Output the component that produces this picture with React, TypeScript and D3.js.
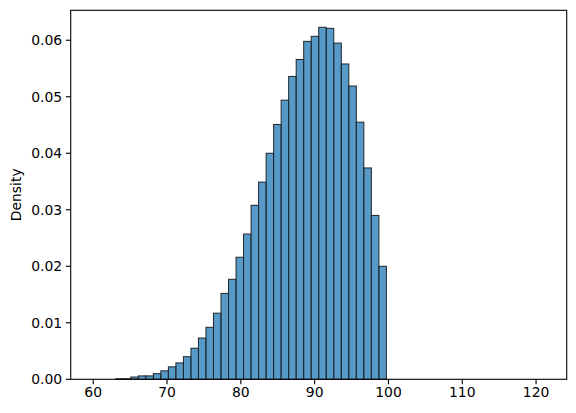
import * as d3 from "d3"

// histogram bins: left edge of first bin and common width
const binStart = 60.0
const binWidth = 1.0185

// density per bin
const densities = [
  0, 0, 0, 0.0001, 0.0001, 0.0004, 0.0006, 0.0006, 0.001, 0.0015, 0.0022,
  0.0029, 0.004, 0.0055, 0.0073, 0.0092, 0.0117, 0.0152, 0.0177, 0.0216,
  0.0257, 0.0308, 0.0349, 0.04, 0.0451, 0.0494, 0.0536, 0.0566, 0.0598,
  0.0607, 0.0623, 0.0621, 0.0595, 0.0558, 0.0519, 0.0455, 0.0374, 0.029,
  0.02,
]

const xTicks = [60, 70, 80, 90, 100, 110, 120]
const yTicks = [0, 0.01, 0.02, 0.03, 0.04, 0.05, 0.06]

const W = 576
const H = 413
const margin = { top: 10.3, right: 9.3, bottom: 33.7, left: 70.7 }

export default function App() {
  const x = d3
    .scaleLinear()
    .domain([56.95, 124.15])
    .range([margin.left, W - margin.right])
  const y = d3
    .scaleLinear()
    .domain([0, 0.0653])
    .range([H - margin.bottom, margin.top])

  const bins = densities.map((d, i) => ({
    x0: binStart + i * binWidth,
    x1: binStart + (i + 1) * binWidth,
    d,
  }))

  const font = "'DejaVu Sans', sans-serif"

  return (
    <svg
      width={W}
      height={H}
      style={{ position: "absolute", left: 0, top: 0, background: "#fff" }}
      fontFamily={font}
    >
      {/* Bars */}
      {bins
        .filter((b) => b.d > 0)
        .map((b, i) => (
          <rect
            key={i}
            x={x(b.x0)}
            y={y(b.d)}
            width={x(b.x1) - x(b.x0)}
            height={y(0) - y(b.d)}
            fill="#1f77b4"
            fillOpacity={0.75}
            stroke="#1f252b"
            strokeWidth={1}
          />
        ))}

      {/* X ticks */}
      {xTicks.map((t) => (
        <g key={t} transform={`translate(${x(t)},${y(0)})`}>
          <line y2={4.9} stroke="#000" strokeWidth={1.1} />
          <text y={18} textAnchor="middle" fontSize={13.9} fill="#000">
            {t}
          </text>
        </g>
      ))}

      {/* Y ticks */}
      {yTicks.map((t) => (
        <g key={t} transform={`translate(${margin.left},${y(t)})`}>
          <line x2={-4.9} stroke="#000" strokeWidth={1.1} />
          <text
            x={-8.5}
            dy="0.35em"
            textAnchor="end"
            fontSize={13.9}
            fill="#000"
          >
            {t.toFixed(2)}
          </text>
        </g>
      ))}

      {/* Y label */}
      <text
        transform={`translate(21,${(margin.top + H - margin.bottom) / 2}) rotate(-90)`}
        textAnchor="middle"
        fontSize={13.9}
        fill="#000"
      >
        Density
      </text>

      {/* Frame */}
      <rect
        x={margin.left}
        y={margin.top}
        width={W - margin.left - margin.right}
        height={H - margin.top - margin.bottom}
        fill="none"
        stroke="#000"
        strokeWidth={1.1}
      />
    </svg>
  )
}
